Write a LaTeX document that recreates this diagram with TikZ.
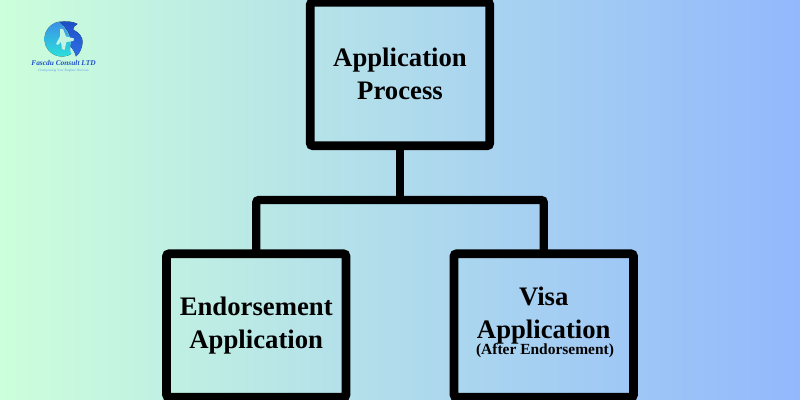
\documentclass[tikz,border=0pt]{standalone}
\usepackage{fontspec}
\setmainfont{Liberation Serif}
\usepackage{tikz}
\usepackage{xcolor}
\definecolor{bgleft}{HTML}{CCFFDB}
\definecolor{bgright}{HTML}{93B8FD}
\definecolor{logoblue}{HTML}{2F6FE8}
\definecolor{logonavy}{HTML}{1D4FC4}
\definecolor{logosky}{HTML}{3C8FE6}
\definecolor{logocyan}{HTML}{2BE0DC}
\definecolor{logoname}{HTML}{1F4FC8}
\tikzset{
    stagebox/.style={draw,line width=0.172cm,rounded corners=0.05cm,outer sep=0pt,minimum width=3.59cm,minimum height=2.87cm,inner sep=0pt,align=center,font=\fontsize{15.2}{19}\selectfont\bfseries},
    linkline/.style={line width=0.165cm},
}
\begin{document}
\begin{tikzpicture}
    \useasboundingbox (0,0) rectangle (16,8);
    \shade[left color=bgleft,right color=bgright] (0,0) rectangle (16,8);
    \begin{scope}
        \clip (0,0) rectangle (16,8);
        %方框
        \node[stagebox] (process) at (8,6.52) {Application\\Process};
        \node[stagebox] (endorse) at (5.125,1.49) {Endorsement\\Application};
        \node[stagebox] (visa) at (10.875,1.49) {};
        \node[font=\fontsize{15.2}{19}\selectfont\bfseries,align=center] (visatitle) at (10.875,1.69) {Visa\\Application};
        \node[font=\fontsize{8.8}{10}\selectfont\bfseries] (visanote) at (10.9,0.98) {(After Endorsement)};
        %连线
        \coordinate (fork) at (8,4);
        \draw[linkline] (process.south)--(fork);
        \draw[linkline,rounded corners=0.05cm] (endorse.north)|-(fork)-|(visa.north);
    \end{scope}
    %标志
    \begin{scope}
        \clip (0.88,6.85) rectangle (1.7,7.6);
        \fill[top color=logosky,bottom color=logocyan] (1.24,7.22) circle (0.35);
    \end{scope}
    \fill[bgleft!85!bgright] (1.2,7.56) .. controls (1.32,7.42) and (1.45,7.25) .. (1.41,7.05) .. controls (1.39,6.98) and (1.42,6.9) .. (1.52,6.85) -- (1.66,7.2) -- (1.5,7.56) -- cycle;
    \fill[top color=logonavy,bottom color=logoblue] (1.2,7.55) .. controls (1.3,7.58) and (1.45,7.58) .. (1.55,7.52) .. controls (1.5,7.5) and (1.47,7.46) .. (1.46,7.41) .. controls (1.58,7.35) and (1.66,7.25) .. (1.65,7.16) .. controls (1.65,7.05) and (1.6,6.94) .. (1.52,6.87) .. controls (1.5,6.95) and (1.46,7.02) .. (1.41,7.07) .. controls (1.46,7.2) and (1.36,7.42) .. (1.2,7.55) -- cycle;
    \fill[bgleft!85!bgright] (1.2,7.42) -- (1.26,7.42) -- (1.32,7.27) -- (1.48,7.23) -- (1.47,7.18) -- (1.33,7.16) -- (1.29,7.0) -- (1.24,7.02) -- (1.22,7.16) -- (1.16,7.1) -- (1.12,7.12) -- (1.2,7.27) -- cycle;
    \node[text=logoname,font=\fontsize{4.2}{5}\selectfont\bfseries\itshape] (logoname) at (1.27,6.746) {Fascdu Consult LTD};
    \node[text=logoblue!70,font=\fontsize{1.9}{2}\selectfont] (logotag) at (1.27,6.586) {Championing Your Brighter Horizons};
\end{tikzpicture}
\end{document}
